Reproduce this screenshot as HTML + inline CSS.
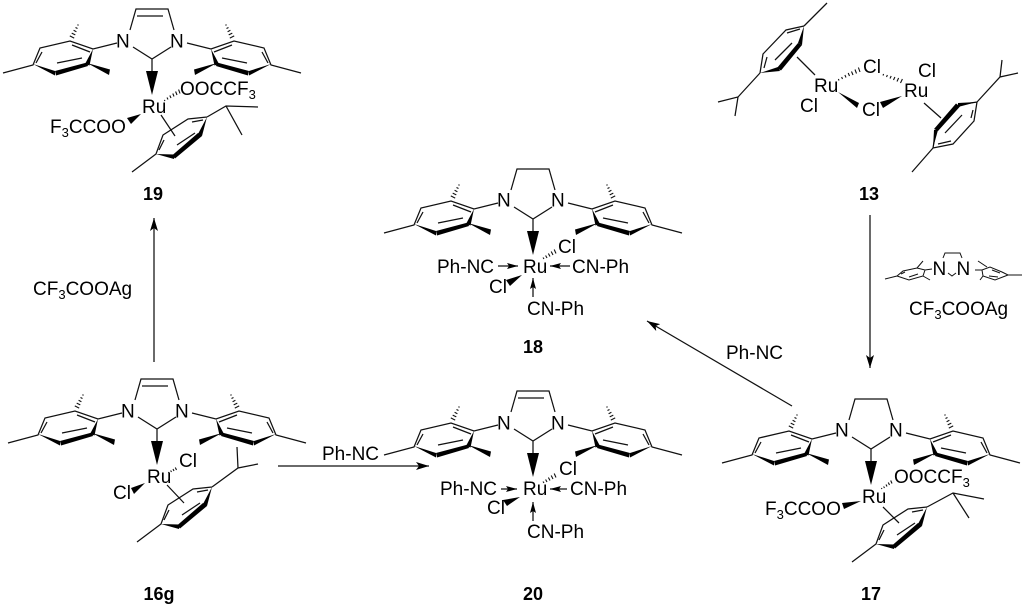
<!DOCTYPE html>
<html><head><meta charset="utf-8"><style>
html,body{margin:0;padding:0;background:#fff}
svg{display:block}
text{font-family:"Liberation Sans",Arial,sans-serif;font-size:19px;fill:#000}
.b{font-weight:bold;font-size:18px;text-anchor:middle}
.l{stroke:#111;stroke-width:1.25;fill:none}
.f{fill:#000;stroke:none}
.h{stroke:#111;stroke-width:1.1;fill:none}
</style></head><body>
<svg width="1024" height="608" viewBox="0 0 1024 608" xmlns="http://www.w3.org/2000/svg">
<defs>
<g id="mes">
<path class="l" d="M-35,-16L-59,-10L-82,-18L-112,-11L-119,6L-149,14M-110,-7L-116,4M-80,-14L-62,-7M-95,4L-70,-1"/>
<polygon class="f" points="-119,5 -97,12 -97,16.5"/>
<polygon class="f" points="-97,12 -65,3.5 -64,7 -96,16.5"/>
<polygon class="f" points="-59,-10 -67,5 -62.5,6.5"/>
<polygon class="f" points="-65,4 -42,10.5 -43,16"/>
<path class="h" d="M-82.2,-23.1L-77.8,-20.9M-80.3,-25.9L-76.7,-24.1M-78.4,-28.7L-75.6,-27.3M-76.5,-31.5L-74.5,-30.5M-74.6,-34.3L-73.4,-33.7"/>
</g>
<g id="nhc">
<use href="#mes"/><use href="#mes" transform="scale(-1,1)"/>
<path class="l" d="M-19,-12L0,0L19,-12M-22,-29L-16,-50H16L22,-29M0,0V13"/>
<polygon class="f" points="-6,12 6,12 0,36"/>
</g>
<marker id="a" markerWidth="14" markerHeight="10" refX="13" refY="4" orient="auto" markerUnits="userSpaceOnUse"><path d="M0,0L13,4L0,8L3,4Z" fill="#000"/></marker>
<marker id="s" markerWidth="12" markerHeight="8" refX="11" refY="3" orient="auto" markerUnits="userSpaceOnUse"><path d="M0,0L11,3L0,6L2,3Z" fill="#000"/></marker>
</defs>

<!-- 19 -->
<use href="#nhc" x="152" y="59"/>
<path class="l" d="M137,16H163"/>
<text x="116" y="47.5">N</text><text x="170" y="47.5">N</text>
<text x="142" y="113">Ru</text>
<text x="180" y="95">OOCCF<tspan font-size="13" dy="4">3</tspan></text>
<text x="50" y="133">F<tspan font-size="13" dy="4">3</tspan><tspan dy="-4">CCOO</tspan></text>
<polygon class="f" points="127,118 131,124 141,114"/>
<path class="h" d="M165,101L164.3,100M168,99.5L167,97.5M171,98L169.8,95.5M174,96.5L172.8,93.5M177,95L175.6,91.5M180,93.5L178.6,89.5"/>
<path class="l" d="M161,115L175,136M207,117L188,119L163,135L156,154L132,172M192,122L203,120M164,140L159,150M177,145L195,133M207,117L226,106L258,107M226,106L242,135"/>
<polygon class="f" points="207,117 198,134 202,136"/>
<polygon class="f" points="198,133 202,136 175,158.5 172,155.5"/>
<polygon class="f" points="156,154 174,154.5 174,159"/>
<text class="b" x="153" y="200">19</text>

<!-- 18 -->
<use href="#nhc" x="533" y="219"/>
<text x="497" y="206.5">N</text><text x="551" y="206.5">N</text>
<text x="523" y="273">Ru</text>
<text x="558" y="253">Cl</text>
<text x="437" y="273">Ph-NC</text>
<text x="572" y="273">CN-Ph</text>
<text x="489" y="293">Cl</text>
<text x="527" y="315">CN-Ph</text>
<path class="l" marker-end="url(#s)" d="M498,266H518"/>
<path class="l" marker-end="url(#s)" d="M570,266H550"/>
<path class="l" marker-end="url(#s)" d="M533,297V278"/>
<polygon class="f" points="506,280 510,286 522,275"/>
<path class="h" d="M544,259L543,257.5M547,258L545.6,255.5M550,256.5L548.4,253.5M553,255L551.2,251.5M556,253.5L554.2,249.5"/>
<text class="b" x="533" y="353">18</text>

<!-- 16g -->
<use href="#nhc" x="157" y="429"/>
<path class="l" d="M142,386H168"/>
<text x="121" y="417.5">N</text><text x="175" y="417.5">N</text>
<text x="147" y="483">Ru</text>
<text x="179" y="467">Cl</text>
<text x="113" y="499">Cl</text>
<polygon class="f" points="131,488 134,494 145,483"/>
<path class="h" d="M169,473L168.4,472M171.5,472L170.6,470.5M174,471L173,469M176.5,470L175.3,467.5"/>
<path class="l" d="M167,485L184,503M212,487L193,489L168,505L161,524L137,542M197,492L208,490M169,510L164,520M182,515L200,503M212,487L238,468L258,464M238,468L237,447"/>
<polygon class="f" points="212,487 203,504 207,506"/>
<polygon class="f" points="203,503 207,506 180,528.5 177,525.5"/>
<polygon class="f" points="161,524 179,524.5 179,529"/>
<text class="b" x="159" y="600">16g</text>

<!-- 20 -->
<use href="#nhc" x="533" y="441"/>
<path class="l" d="M518,398H544"/>
<text x="497" y="429.5">N</text><text x="551" y="429.5">N</text>
<text x="523" y="495">Ru</text>
<text x="559" y="475">Cl</text>
<text x="440" y="495">Ph-NC</text>
<text x="570" y="495">CN-Ph</text>
<text x="487" y="514">Cl</text>
<text x="527" y="538">CN-Ph</text>
<path class="l" marker-end="url(#s)" d="M501,489H517"/>
<path class="l" marker-end="url(#s)" d="M567,489H550"/>
<path class="l" marker-end="url(#s)" d="M533,521V502"/>
<polygon class="f" points="503,500 507,506 520,497"/>
<path class="h" d="M544,483L543,481.5M547,482L545.6,479.5M550,480.5L548.4,477.5M553,479L551.2,475.5M556,477.5L554.2,473.5"/>
<text class="b" x="533" y="600">20</text>

<!-- 17 -->
<use href="#nhc" x="871" y="449"/>
<text x="835" y="436.5">N</text><text x="889" y="436.5">N</text>
<text x="862" y="503">Ru</text>
<text x="894" y="483">OOCCF<tspan font-size="13" dy="4">3</tspan></text>
<text x="765" y="515">F<tspan font-size="13" dy="4">3</tspan><tspan dy="-4">CCOO</tspan></text>
<polygon class="f" points="842,503 844,509 861,501"/>
<path class="h" d="M882,489L881.4,488M884.5,488L883.6,486.5M887,486.5L886,484.5M889.5,485L888.3,482.5M892,483.5L890.7,480.5"/>
<path class="l" d="M883,507L899,523M927,507L908,509L883,525L876,544L852,562M912,512L923,510M884,530L879,540M897,535L915,523M927,507L953,493L984,499M953,493L969,518"/>
<polygon class="f" points="927,507 918,524 922,526"/>
<polygon class="f" points="918,523 922,526 895,548.5 892,545.5"/>
<polygon class="f" points="876,544 894,544.5 894,549"/>
<text class="b" x="871" y="600">17</text>

<!-- 13 -->
<path class="l" d="M804,26L827,3M804,26L786,30L763,54L760,73M787,33L800,29M767,57L764,68M775,60L792,43M797,57L815,75M760,73L738,97L718,102M738,97L735,116"/>
<polygon class="f" points="804,26 798,43 802,45"/>
<polygon class="f" points="798,43 802,45 781,70.5 777,68"/>
<polygon class="f" points="760,73 778,67 780,71"/>
<text x="814" y="92">Ru</text>
<text x="800" y="112">Cl</text>
<text x="863" y="73">Cl</text>
<text x="862" y="116">Cl</text>
<text x="904" y="97">Ru</text>
<text x="918" y="77">Cl</text>
<path class="h" d="M839,80.5L838.4,79M842.5,79L841.6,77M846,77.5L844.9,75M849.5,76L848.2,73M853,75L851.5,71.5M856.5,73.5L855,69.5M860,72L858.4,67.5"/>
<path class="h" d="M883,75.5L883.6,74M886.5,77L887.4,75M890,78.5L891.2,76M893.5,80L894.9,77M897,81.5L898.6,78M900.5,83L902.4,79"/>
<polygon class="f" points="838,92 859,103 857,108"/>
<polygon class="f" points="880,102 883,108 902,96"/>
<path class="l" d="M924,103L941,118M977,102L958,105M936,130L933,148L953,144L974,121L977,102M973,110L971,118M938,144L951,141M945,133L962,115M933,148L912,172M977,102L1000,77L1018,73M1000,77L1002,60"/>
<polygon class="f" points="977,102 958,103 958,107"/>
<polygon class="f" points="956,103.5 960,106.5 938,131 934,129"/>
<polygon class="f" points="934,130 938,130 933,148"/>
<text class="b" x="869" y="200">13</text>

<!-- reagent -->
<text x="932.5" y="275">N</text>
<text x="956.5" y="275">N</text>
<path class="l" style="stroke-width:1" d="M943,258L945,253H960L962,258M948,273L952,276L956,273M932,269L925,270L917,268L903,271L897,276L885,279M925,270L923,276L909,280L897,276M917,268L923,261M923,276L930,280M975,270L982,270L990,267L1002,272L1008,275L1022,275M982,270L983,276L995,280L1008,275M987,267L978,261M983,276L980,280M901,274L905,272M909,277L918,274M992,270L1000,273M989,276L998,277"/>
<text x="909" y="315">CF<tspan font-size="13" dy="4">3</tspan><tspan dy="-4">COOAg</tspan></text>

<!-- reaction arrows -->
<path class="l" marker-end="url(#a)" d="M154,362V218"/>
<path class="l" marker-end="url(#a)" d="M870,215V368"/>
<path class="l" marker-end="url(#a)" d="M792,406L647,321"/>
<path class="l" marker-end="url(#a)" d="M278,466H429"/>
<text x="33" y="295">CF<tspan font-size="13" dy="4">3</tspan><tspan dy="-4">COOAg</tspan></text>
<text x="322" y="460">Ph-NC</text>
<text x="726" y="359">Ph-NC</text>
</svg>
</body></html>
